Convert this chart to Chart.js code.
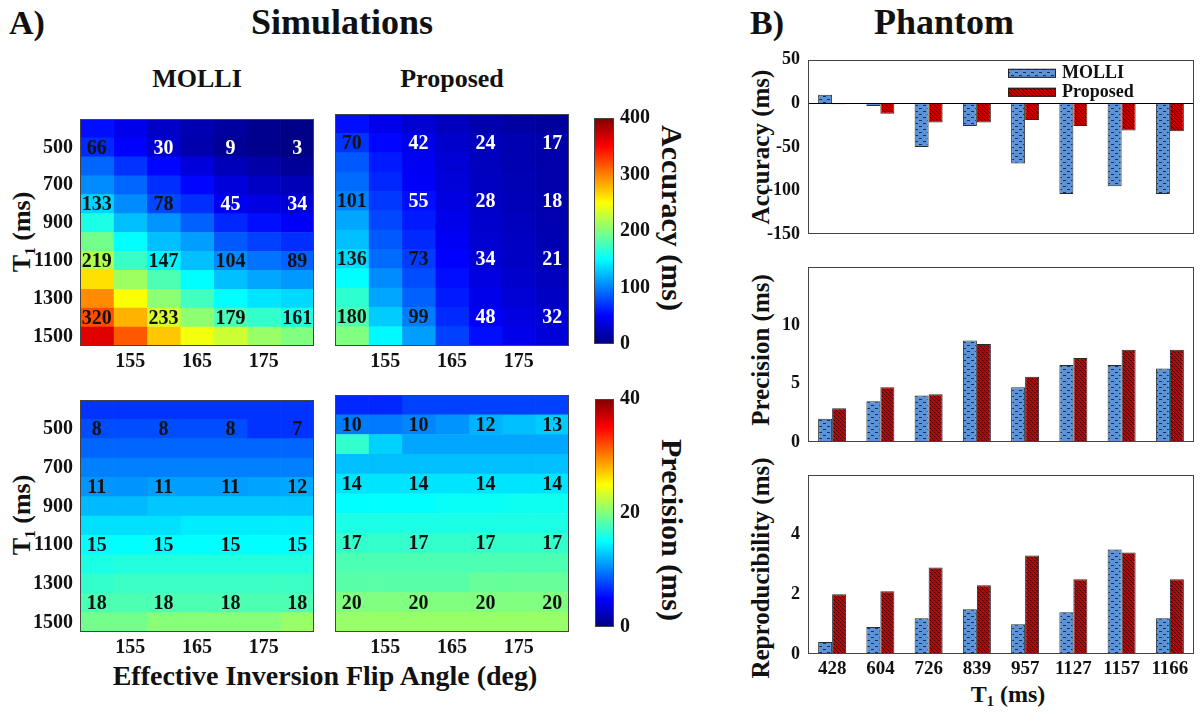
<!DOCTYPE html>
<html>
<head>
<meta charset="utf-8">
<script src="https://cdn.jsdelivr.net/npm/chart.js@4.4.1/dist/chart.umd.min.js"></script>
<style>
    body { margin: 0; background: #fff; }
    #fig { position: relative; width: 1200px; height: 713px; overflow: hidden;
           font-family: "Liberation Serif", "Times New Roman", serif; font-weight: bold; color: #111; }
    .box { position: absolute; }
    .txt { position: absolute; white-space: nowrap; line-height: 1; transform: translate(-50%, -50%); }
    .up { transform: translate(-50%, -50%) rotate(-90deg); }
    .down { transform: translate(-50%, -50%) rotate(90deg); }
    sub { font-size: 60%; vertical-align: -0.3em; line-height: 0; }
</style>
</head>
<body>
<div id="fig">
    <div class="txt" style="left:27px;top:23px;font-size:34px">A)</div>
    <div class="txt" style="left:342px;top:22px;font-size:36px">Simulations</div>
    <div class="txt" style="left:767px;top:23px;font-size:34px">B)</div>
    <div class="txt" style="left:944px;top:22px;font-size:36px">Phantom</div>

    <div class="txt" style="left:197px;top:79px;font-size:26px">MOLLI</div>
    <div class="txt" style="left:452px;top:79px;font-size:26px">Proposed</div>

    <div class="txt up" style="left:22px;top:232px;font-size:26px">T<sub>1</sub> (ms)</div>
    <div class="txt up" style="left:22px;top:515px;font-size:26px">T<sub>1</sub> (ms)</div>
    <div class="txt" style="left:325px;top:676px;font-size:28px">Effective Inversion Flip Angle (deg)</div>

    <div class="txt down" style="left:672px;top:218px;font-size:30px">Accuracy (ms)</div>
    <div class="txt down" style="left:672px;top:530px;font-size:30px">Precision (ms)</div>

    <div class="txt up" style="left:760px;top:147px;font-size:25px">Accuracy (ms)</div>
    <div class="txt up" style="left:760px;top:350px;font-size:25px">Precision (ms)</div>
    <div class="txt up" style="left:760px;top:568px;font-size:25px">Reproducibility (ms)</div>
    <div class="txt" style="left:1008px;top:694px;font-size:24px">T<sub>1</sub> (ms)</div>
</div>

<script>
// Simulation grid
const flipAngles = [150, 155, 160, 165, 170, 175, 180];
const flipTicks = [155, 165, 175];
const t1Rows = [400, 500, 600, 700, 800, 900, 1000, 1100, 1200, 1300, 1400, 1500];
const t1Ticks = [500, 700, 900, 1100, 1300, 1500];
const labelledRows = [500, 800, 1100, 1400];
const labelledAngles = [150, 160, 170, 180];

// Accuracy (ms), rows = T1, columns = flip angle
const molliAccuracy = [
    [55, 42, 28, 20, 12, 6, 3],
    [66, 50, 30, 18, 9, 5, 3],
    [90, 70, 52, 36, 22, 15, 10],
    [105, 90, 68, 52, 36, 27, 22],
    [133, 105, 78, 68, 45, 38, 34],
    [160, 125, 108, 88, 65, 55, 48],
    [195, 150, 125, 112, 85, 75, 68],
    [219, 172, 147, 125, 104, 95, 89],
    [262, 212, 180, 150, 125, 115, 110],
    [295, 248, 205, 175, 150, 140, 135],
    [320, 280, 233, 205, 179, 170, 161],
    [362, 315, 272, 245, 230, 210, 200]
];
const proposedAccuracy = [
    [55, 42, 32, 24, 18, 14, 12],
    [70, 52, 42, 30, 24, 20, 17],
    [85, 60, 45, 33, 25, 20, 17],
    [92, 65, 48, 35, 26, 21, 17],
    [101, 72, 55, 38, 28, 22, 18],
    [115, 78, 60, 42, 30, 24, 19],
    [125, 85, 66, 46, 32, 26, 20],
    [136, 92, 73, 50, 34, 27, 21],
    [150, 105, 80, 55, 38, 30, 24],
    [168, 115, 88, 60, 42, 33, 27],
    [180, 130, 99, 66, 48, 38, 32],
    [200, 148, 112, 75, 55, 42, 35]
];

// Precision (ms)
const molliPrecision = [
    [7, 7, 7, 7, 7, 7, 7],
    [8, 8, 8, 8, 8, 7, 7],
    [9, 9, 9, 9, 9, 9, 9],
    [10, 10, 10, 10, 10, 10, 10],
    [10.8, 10.8, 11.2, 11.2, 11.2, 11.4, 11.6],
    [12.3, 12.3, 12.8, 12.8, 12.8, 12.8, 12.8],
    [13.8, 13.8, 13.8, 14.3, 14.3, 14.3, 14.3],
    [15, 15, 15, 15, 15, 15, 15],
    [16, 16.3, 16.3, 16.3, 16.3, 16.3, 16.3],
    [17, 17.3, 17.3, 17.3, 17.3, 17.3, 17.3],
    [18, 18, 18, 18, 18, 18, 18],
    [19.5, 19.5, 20.3, 20.3, 20.3, 20.3, 21]
];
const proposedPrecision = [
    [6.5, 6.5, 7.5, 7.5, 7.5, 7.5, 7.5],
    [9.8, 9.8, 10.2, 10.8, 12, 12.5, 13],
    [17, 13.2, 11.5, 11.5, 11.5, 11.5, 11.5],
    [12.5, 12.5, 12.5, 12.5, 12.5, 12.5, 12.5],
    [14, 14, 14, 14, 14, 14, 14],
    [15, 15, 15, 15.3, 15.3, 15.5, 15.5],
    [16, 16, 16, 16, 16, 16, 16],
    [17, 17, 17, 17, 17, 17, 17],
    [18, 18, 18, 18, 18, 18, 18],
    [18.5, 18.5, 18.5, 18.5, 19, 19, 19],
    [20, 20, 20, 20, 20, 20, 20],
    [21, 21, 21, 21, 21, 21, 21]
];

const accuracyMax = 400;
const accuracyBarTicks = [0, 100, 200, 300, 400];
const precisionMax = 40;
const precisionBarTicks = [0, 20, 40];

// Phantom
const phantomT1 = ["428", "604", "726", "839", "957", "1127", "1157", "1166"];
const molliPhantomAccuracy = [10, -3, -50, -26, -69, -104, -95, -104];
const proposedPhantomAccuracy = [-1, -12, -22, -22, -19, -26, -31, -32];
const molliPhantomPrecision = [2.0, 3.5, 4.0, 8.7, 4.7, 6.6, 6.6, 6.3];
const proposedPhantomPrecision = [2.9, 4.7, 4.1, 8.4, 5.6, 7.2, 7.9, 7.9];
const molliReproducibility = [0.4, 0.9, 1.2, 1.5, 1.0, 1.4, 3.5, 1.2];
const proposedReproducibility = [2.0, 2.1, 2.9, 2.3, 3.3, 2.5, 3.4, 2.5];
const accuracyAxisTicks = [-150, -100, -50, 0, 50];
const precisionAxisTicks = [0, 5, 10];
const reproAxisTicks = [0, 2, 4];

const FONT = '"Liberation Serif", "Times New Roman", serif';
const PAD = 14;

Chart.defaults.font.family = FONT;
Chart.defaults.font.weight = "bold";
Chart.defaults.color = "#111";
Chart.defaults.animation = false;
Chart.defaults.plugins.legend.display = false;
Chart.defaults.plugins.tooltip.enabled = false;

// MATLAB jet colormap
function jet(t) {
    t = Math.min(1, Math.max(0, t));
    const c = v => Math.round(255 * Math.min(1, Math.max(0, v)));
    return "rgb(" + c(1.5 - Math.abs(4 * t - 3)) + "," + c(1.5 - Math.abs(4 * t - 2)) + "," + c(1.5 - Math.abs(4 * t - 1)) + ")";
}

// Place a canvas so that its chart area lands on the given rectangle
function makeChart(area, axes, config) {
    const div = document.createElement("div");
    div.className = "box";
    const left = area.left - (axes.yLeft || 0) - PAD;
    const top = area.top - PAD;
    div.style.left = left + "px";
    div.style.top = top + "px";
    div.style.width = (area.width + (axes.yLeft || 0) + (axes.yRight || 0) + 2 * PAD) + "px";
    div.style.height = (area.height + (axes.xBottom || 0) + 2 * PAD) + "px";
    document.getElementById("fig").appendChild(div);
    const canvas = document.createElement("canvas");
    div.appendChild(canvas);
    config.options.responsive = true;
    config.options.maintainAspectRatio = false;
    config.options.devicePixelRatio = 1;
    config.options.layout = { padding: PAD };
    return new Chart(canvas.getContext("2d"), config);
}

// Frame around the plot area
const frame = {
    id: "frame",
    afterDraw(chart) {
        const a = chart.chartArea;
        const ctx = chart.ctx;
        ctx.save();
        ctx.strokeStyle = "#444";
        ctx.lineWidth = 1;
        ctx.strokeRect(Math.round(a.left) + 0.5, Math.round(a.top) + 0.5, Math.round(a.width) - 1, Math.round(a.height) - 1);
        ctx.restore();
    }
};

// Numbers printed on some cells
const cellLabels = {
    id: "cellLabels",
    afterDatasetsDraw(chart, args, opts) {
        const ctx = chart.ctx;
        const x = chart.scales.x;
        const y = chart.scales.y;
        ctx.save();
        ctx.font = "bold 20px " + FONT;
        ctx.textAlign = "center";
        ctx.textBaseline = "middle";
        labelledRows.forEach(r => {
            const i = t1Rows.indexOf(r);
            labelledAngles.forEach(a => {
                const j = flipAngles.indexOf(a);
                const v = opts.values[i][j];
                ctx.fillStyle = v / opts.vmax < 0.15 ? "#fff" : "#111";
                ctx.fillText(String(Math.round(v)), x.getPixelForValue(a), y.getPixelForValue(i) + 1);
            });
        });
        ctx.restore();
    }
};

function heatmap(area, values, vmax, showY) {
    const step = flipAngles[1] - flipAngles[0];
    const yWidth = showY ? 80 : 0;
    const datasets = flipAngles.map((angle, j) => ({
        data: t1Rows.map(() => [angle - step / 2, angle + step / 2]),
        backgroundColor: values.map(row => jet(row[j] / vmax)),
        borderWidth: 0,
        barPercentage: 1,
        categoryPercentage: 1,
        grouped: false
    }));
    return makeChart(area, { yLeft: yWidth, xBottom: 30 }, {
        type: "bar",
        data: { labels: t1Rows.map(String), datasets: datasets },
        options: {
            indexAxis: "y",
            plugins: { cellLabels: { values: values, vmax: vmax } },
            scales: {
                x: {
                    type: "linear",
                    min: flipAngles[0] - step / 2,
                    max: flipAngles[flipAngles.length - 1] + step / 2,
                    grid: { display: false, drawTicks: false },
                    border: { display: false },
                    afterBuildTicks: s => { s.ticks = flipTicks.map(v => ({ value: v })); },
                    ticks: { font: { size: 20 }, padding: 4, maxRotation: 0 },
                    afterFit: s => { s.height = 30; }
                },
                y: {
                    type: "category",
                    display: showY,
                    grid: { display: false, drawTicks: false },
                    border: { display: false },
                    ticks: {
                        autoSkip: false,
                        padding: 7,
                        font: { size: 20 },
                        callback: function(value) {
                            const lab = this.getLabelForValue(value);
                            return t1Ticks.includes(Number(lab)) ? lab : "";
                        }
                    },
                    afterFit: s => { s.width = yWidth; }
                }
            }
        },
        plugins: [cellLabels, frame]
    });
}

function colorbar(area, vmax, ticks) {
    return makeChart(area, { yRight: 50 }, {
        type: "bar",
        data: {
            labels: [""],
            datasets: [{
                data: [[0, vmax]],
                backgroundColor: function(ctx) {
                    const a = ctx.chart.chartArea;
                    if (!a) return jet(0.5);
                    const g = ctx.chart.ctx.createLinearGradient(0, a.bottom, 0, a.top);
                    for (let k = 0; k <= 32; k++) g.addColorStop(k / 32, jet(k / 32));
                    return g;
                },
                borderWidth: 0,
                barPercentage: 1,
                categoryPercentage: 1
            }]
        },
        options: {
            scales: {
                x: { display: false, afterFit: s => { s.height = 0; } },
                y: {
                    position: "right",
                    min: 0,
                    max: vmax,
                    grid: { display: false, drawTicks: false },
                    border: { display: false },
                    afterBuildTicks: s => { s.ticks = ticks.map(v => ({ value: v })); },
                    ticks: { font: { size: 20 }, padding: 6 },
                    afterFit: s => { s.width = 50; }
                }
            }
        },
        plugins: [frame]
    });
}

// Bar fill patterns
function makePattern(w, h, bg, draw) {
    const c = document.createElement("canvas");
    c.width = w;
    c.height = h;
    const g = c.getContext("2d");
    g.fillStyle = bg;
    g.fillRect(0, 0, w, h);
    draw(g);
    return g.createPattern(c, "repeat");
}
const molliFill = makePattern(8, 6, "#5a93d8", g => {
    g.fillStyle = "#1c2f4d";
    g.fillRect(1, 1, 3, 1);
    g.fillRect(5, 4, 3, 1);
});
const proposedFill = makePattern(4, 4, "#c00000", g => {
    g.strokeStyle = "#4a0000";
    g.lineWidth = 1;
    g.beginPath();
    g.moveTo(-1, -1);
    g.lineTo(5, 5);
    g.stroke();
});

// Legend drawn inside the accuracy plot
const insideLegend = {
    id: "insideLegend",
    afterDraw(chart) {
        const a = chart.chartArea;
        const ctx = chart.ctx;
        ctx.save();
        chart.data.datasets.forEach((ds, i) => {
            const bx = a.right - 186;
            const by = a.top + 9 + i * 19;
            ctx.fillStyle = ds.backgroundColor;
            ctx.fillRect(bx, by, 48, 9);
            ctx.strokeStyle = "#222";
            ctx.lineWidth = 1;
            ctx.strokeRect(bx + 0.5, by + 0.5, 47, 8);
            ctx.fillStyle = "#111";
            ctx.font = "bold 18px " + FONT;
            ctx.textBaseline = "middle";
            ctx.fillText(ds.label, bx + 54, by + 5);
        });
        ctx.restore();
    }
};

function phantomChart(area, molli, proposed, yMin, yMax, yTicks, showX, extra) {
    const xHeight = showX ? 30 : 0;
    return makeChart(area, { yLeft: 108, xBottom: xHeight }, {
        type: "bar",
        data: {
            labels: phantomT1,
            datasets: [
                { label: "MOLLI", data: molli, backgroundColor: molliFill, borderColor: "#2b2b2b", borderWidth: 1,
                  barPercentage: 1, categoryPercentage: 0.58 },
                { label: "Proposed", data: proposed, backgroundColor: proposedFill, borderColor: "#2b2b2b", borderWidth: 1,
                  barPercentage: 1, categoryPercentage: 0.58 }
            ]
        },
        options: {
            scales: {
                x: {
                    display: showX,
                    grid: { display: false, drawTicks: false },
                    border: { display: false },
                    ticks: { font: { size: 19 }, padding: 4, maxRotation: 0 },
                    afterFit: s => { s.height = xHeight; }
                },
                y: {
                    min: yMin,
                    max: yMax,
                    grid: {
                        drawTicks: false,
                        color: ctx => (ctx.tick && ctx.tick.value === 0 && yMin < 0) ? "#000" : "rgba(0,0,0,0)"
                    },
                    border: { display: false },
                    afterBuildTicks: s => { s.ticks = yTicks.map(v => ({ value: v })); },
                    ticks: { font: { size: 18 }, padding: 8 },
                    afterFit: s => { s.width = 108; }
                }
            }
        },
        plugins: extra ? [frame, extra] : [frame]
    });
}

// A) simulations
heatmap({ left: 80, top: 114, width: 234, height: 232 }, molliAccuracy, accuracyMax, true);
heatmap({ left: 335, top: 114, width: 234, height: 232 }, proposedAccuracy, accuracyMax, false);
heatmap({ left: 80, top: 395, width: 234, height: 237 }, molliPrecision, precisionMax, true);
heatmap({ left: 335, top: 395, width: 234, height: 237 }, proposedPrecision, precisionMax, false);
colorbar({ left: 594, top: 114, width: 20, height: 234 }, accuracyMax, accuracyBarTicks);
colorbar({ left: 595, top: 395, width: 19, height: 236 }, precisionMax, precisionBarTicks);

// B) phantom
phantomChart({ left: 808, top: 55, width: 386, height: 184 }, molliPhantomAccuracy, proposedPhantomAccuracy, -150, 50, accuracyAxisTicks, false, insideLegend);
phantomChart({ left: 808, top: 262, width: 386, height: 185 }, molliPhantomPrecision, proposedPhantomPrecision, 0, 15, precisionAxisTicks, false);
phantomChart({ left: 808, top: 470, width: 386, height: 184 }, molliReproducibility, proposedReproducibility, 0, 6, reproAxisTicks, true);
</script>
</body>
</html>
